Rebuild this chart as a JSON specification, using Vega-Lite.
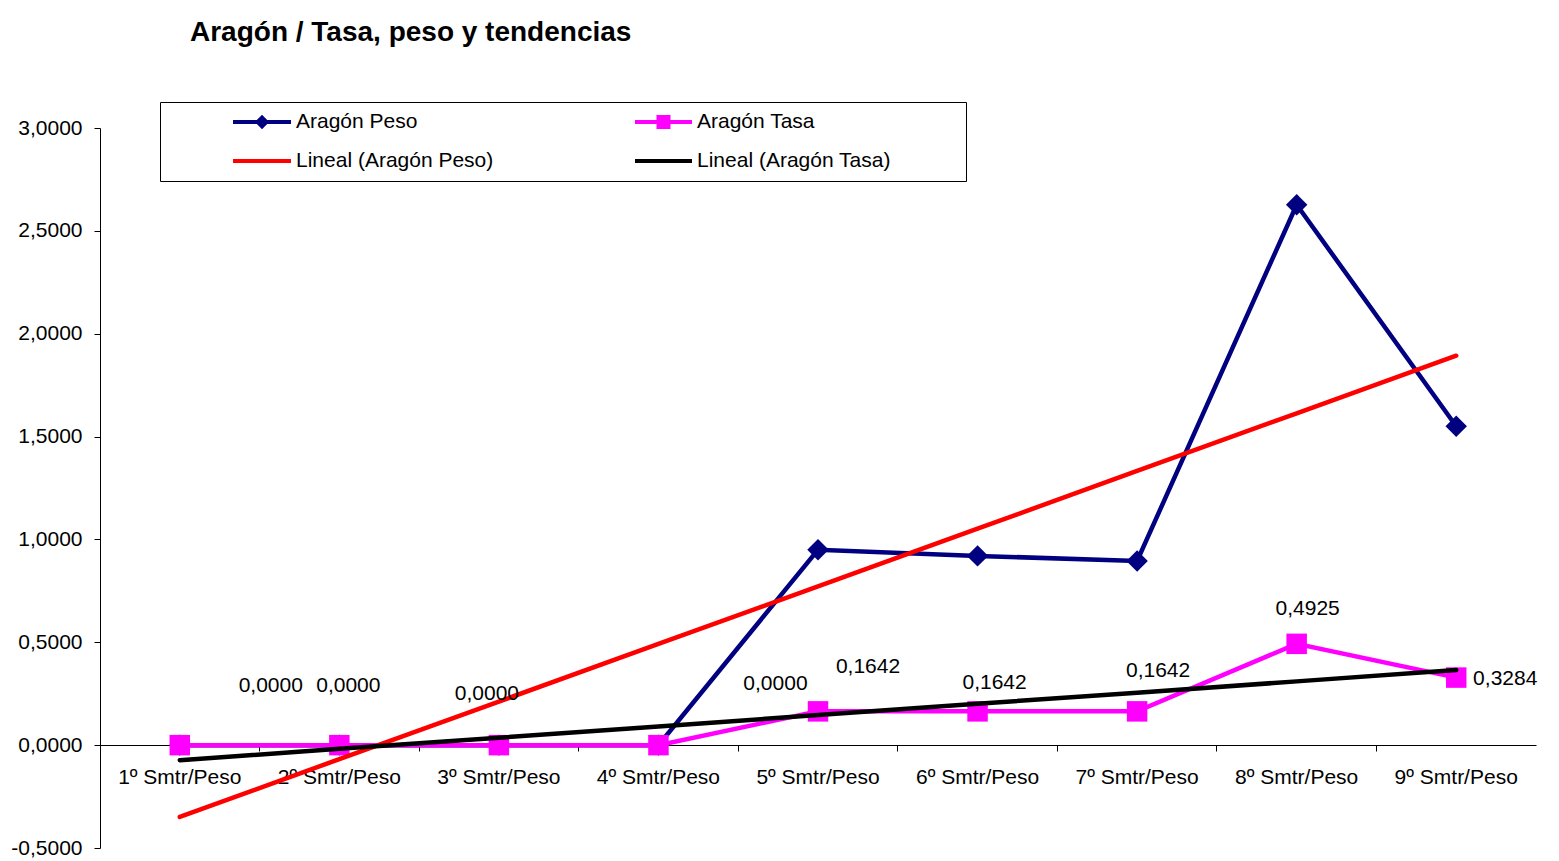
{
  "$schema": "https://vega.github.io/schema/vega-lite/v6.json",
  "width": 1436,
  "height": 720,
  "autosize": {"type": "none"},
  "padding": {"left": 100, "top": 128, "right": 23, "bottom": 13},
  "background": "#ffffff",
  "config": {
    "locale": {"number": {"decimal": ",", "thousands": ".", "grouping": [3], "currency": ["", " €"], "minus": "-"}},
    "font": "Liberation Sans",
    "view": {"stroke": null},
    "axis": {"grid": false, "domainColor": "#000000", "tickColor": "#000000", "labelColor": "#000000", "labelFont": "Liberation Sans", "labelFontSize": 21, "domainWidth": 1, "tickWidth": 1, "title": null}
  },
  "title": {"text": "Aragón  / Tasa, peso y tendencias", "anchor": "start", "frame": "group", "dx": 90, "offset": 33, "baseline": "alphabetic", "fontSize": 28, "fontWeight": "bold", "font": "Liberation Sans", "color": "#000000"},
  "data": {"values": [
    {"cat": "1º Smtr/Peso", "peso": 0, "tasa": 0, "pesoTrend": -0.349, "tasaTrend": -0.073},
    {"cat": "2º Smtr/Peso", "peso": 0, "tasa": 0, "pesoTrend": -0.068, "tasaTrend": -0.018},
    {"cat": "3º Smtr/Peso", "peso": 0, "tasa": 0, "pesoTrend": 0.212, "tasaTrend": 0.036},
    {"cat": "4º Smtr/Peso", "peso": 0, "tasa": 0, "pesoTrend": 0.492, "tasaTrend": 0.091},
    {"cat": "5º Smtr/Peso", "peso": 0.95, "tasa": 0.1642, "pesoTrend": 0.772, "tasaTrend": 0.146},
    {"cat": "6º Smtr/Peso", "peso": 0.92, "tasa": 0.1642, "pesoTrend": 1.052, "tasaTrend": 0.201},
    {"cat": "7º Smtr/Peso", "peso": 0.895, "tasa": 0.1642, "pesoTrend": 1.333, "tasaTrend": 0.255},
    {"cat": "8º Smtr/Peso", "peso": 2.627, "tasa": 0.4925, "pesoTrend": 1.613, "tasaTrend": 0.310},
    {"cat": "9º Smtr/Peso", "peso": 1.55, "tasa": 0.3284, "pesoTrend": 1.893, "tasaTrend": 0.365}
  ]},
  "encoding": {
    "x": {
      "field": "cat", "type": "ordinal", "sort": null,
      "scale": {"type": "band", "paddingInner": 0, "paddingOuter": 0},
      "axis": {"title": null, "offset": -103, "bandPosition": 0, "tickSize": 6, "labelPadding": 15, "labelAngle": 0, "labelOverlap": false, "labelBaseline": "top", "labelAlign": "center", "zindex": 0}
    }
  },
  "layer": [
    {
      "mark": {"type": "line", "strokeWidth": 4.5},
      "encoding": {
        "y": {"field": "peso", "type": "quantitative", "scale": {"domain": [-0.5, 3], "nice": false, "zero": false},
              "axis": {"values": [-0.5, 0, 0.5, 1, 1.5, 2, 2.5, 3], "format": ".4f", "tickSize": 6, "labelPadding": 12, "title": null, "zindex": 0}},
        "color": {
          "datum": "Aragón Peso", "type": "nominal",
          "scale": {"domain": ["Aragón Peso", "Aragón Tasa", "Lineal (Aragón Peso)", "Lineal (Aragón Tasa)"], "range": ["#000080", "#ff00ff", "#ff0000", "#000000"]},
          "legend": {
            "title": " ", "titleOrient": "right", "titlePadding": 65, "titleFontSize": 20,
            "orient": "none", "legendX": 60, "legendY": -26, "columns": 2, "direction": "horizontal",
            "columnPadding": 77, "rowPadding": 18, "padding": 10, "clipHeight": 20,
            "strokeColor": "#000000", "fillColor": "#ffffff",
            "symbolSize": 14161, "symbolStrokeWidth": 4,
            "labelFontSize": 21, "labelFont": "Liberation Sans", "labelColor": "#000000", "labelOffset": 3, "labelLimit": 0,
            "encode": {
              "symbols": {"update": {
                "shape": {"signal": "datum.value === 'Aragón Peso' ? 'M-1,0M0.025,0L1,0M0.44,0L0.513,-0.073L0.586,0L0.513,0.073Z' : datum.value === 'Aragón Tasa' ? 'M-1,0M0.042,0L1,0M0.437,-0.084L0.605,-0.084L0.605,0.084L0.437,0.084Z' : datum.value === 'Lineal (Aragón Peso)' ? 'M-1,0M0.025,0L1,0' : 'M-1,0M0.042,0L1,0'"},
                "fill": {"scale": "color", "field": "value"},
                "stroke": {"scale": "color", "field": "value"},
                "strokeWidth": {"value": 4},
                "opacity": {"value": 1}
              }}
            }
          }
        }
      }
    },
    {
      "mark": {"type": "point", "shape": "diamond", "filled": true, "color": "#000080", "size": 460, "opacity": 1},
      "encoding": {"y": {"field": "peso", "type": "quantitative"}}
    },
    {
      "mark": {"type": "line", "strokeWidth": 4.5},
      "encoding": {
        "y": {"field": "tasa", "type": "quantitative"},
        "color": {"datum": "Aragón Tasa", "type": "nominal"}
      }
    },
    {
      "mark": {"type": "point", "shape": "square", "filled": true, "color": "#ff00ff", "size": 420, "opacity": 1},
      "encoding": {"y": {"field": "tasa", "type": "quantitative"}}
    },
    {
      "mark": {"type": "line", "strokeWidth": 4.5, "strokeCap": "round"},
      "encoding": {
        "y": {"field": "pesoTrend", "type": "quantitative"},
        "color": {"datum": "Lineal (Aragón Peso)", "type": "nominal"}
      }
    },
    {
      "mark": {"type": "line", "strokeWidth": 4.5, "strokeCap": "round"},
      "encoding": {
        "y": {"field": "tasaTrend", "type": "quantitative"},
        "color": {"datum": "Lineal (Aragón Tasa)", "type": "nominal"}
      }
    },
    {
      "transform": [{"filter": "datum.cat === '1º Smtr/Peso'"}],
      "mark": {"type": "text", "dx": 91, "dy": -59, "fontSize": 21, "font": "Liberation Sans", "color": "#000000", "baseline": "middle", "align": "center"},
      "encoding": {"y": {"field": "tasa", "type": "quantitative"}, "text": {"field": "tasa", "type": "quantitative", "format": ".4f"}}
    },
    {
      "transform": [{"filter": "datum.cat === '2º Smtr/Peso'"}],
      "mark": {"type": "text", "dx": 9, "dy": -59, "fontSize": 21, "font": "Liberation Sans", "color": "#000000", "baseline": "middle", "align": "center"},
      "encoding": {"y": {"field": "tasa", "type": "quantitative"}, "text": {"field": "tasa", "type": "quantitative", "format": ".4f"}}
    },
    {
      "transform": [{"filter": "datum.cat === '3º Smtr/Peso'"}],
      "mark": {"type": "text", "dx": -12, "dy": -51, "fontSize": 21, "font": "Liberation Sans", "color": "#000000", "baseline": "middle", "align": "center"},
      "encoding": {"y": {"field": "tasa", "type": "quantitative"}, "text": {"field": "tasa", "type": "quantitative", "format": ".4f"}}
    },
    {
      "transform": [{"filter": "datum.cat === '4º Smtr/Peso'"}],
      "mark": {"type": "text", "dx": 117, "dy": -61, "fontSize": 21, "font": "Liberation Sans", "color": "#000000", "baseline": "middle", "align": "center"},
      "encoding": {"y": {"field": "tasa", "type": "quantitative"}, "text": {"field": "tasa", "type": "quantitative", "format": ".4f"}}
    },
    {
      "transform": [{"filter": "datum.cat === '5º Smtr/Peso'"}],
      "mark": {"type": "text", "dx": 50, "dy": -44, "fontSize": 21, "font": "Liberation Sans", "color": "#000000", "baseline": "middle", "align": "center"},
      "encoding": {"y": {"field": "tasa", "type": "quantitative"}, "text": {"field": "tasa", "type": "quantitative", "format": ".4f"}}
    },
    {
      "transform": [{"filter": "datum.cat === '6º Smtr/Peso'"}],
      "mark": {"type": "text", "dx": 17, "dy": -28, "fontSize": 21, "font": "Liberation Sans", "color": "#000000", "baseline": "middle", "align": "center"},
      "encoding": {"y": {"field": "tasa", "type": "quantitative"}, "text": {"field": "tasa", "type": "quantitative", "format": ".4f"}}
    },
    {
      "transform": [{"filter": "datum.cat === '7º Smtr/Peso'"}],
      "mark": {"type": "text", "dx": 21, "dy": -40, "fontSize": 21, "font": "Liberation Sans", "color": "#000000", "baseline": "middle", "align": "center"},
      "encoding": {"y": {"field": "tasa", "type": "quantitative"}, "text": {"field": "tasa", "type": "quantitative", "format": ".4f"}}
    },
    {
      "transform": [{"filter": "datum.cat === '8º Smtr/Peso'"}],
      "mark": {"type": "text", "dx": 11, "dy": -35, "fontSize": 21, "font": "Liberation Sans", "color": "#000000", "baseline": "middle", "align": "center"},
      "encoding": {"y": {"field": "tasa", "type": "quantitative"}, "text": {"field": "tasa", "type": "quantitative", "format": ".4f"}}
    },
    {
      "transform": [{"filter": "datum.cat === '9º Smtr/Peso'"}],
      "mark": {"type": "text", "dx": 49, "dy": 1, "fontSize": 21, "font": "Liberation Sans", "color": "#000000", "baseline": "middle", "align": "center"},
      "encoding": {"y": {"field": "tasa", "type": "quantitative"}, "text": {"field": "tasa", "type": "quantitative", "format": ".4f"}}
    }
  ]
}
